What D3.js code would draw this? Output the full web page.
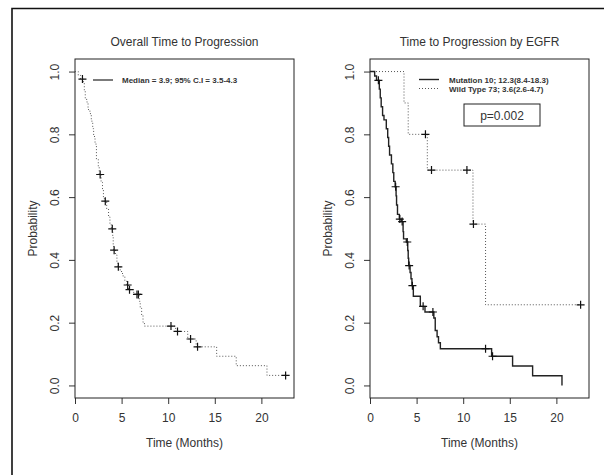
<!DOCTYPE html>
<html>
<head>
<meta charset="utf-8">
<script src="https://cdn.jsdelivr.net/npm/d3@7"></script>
<style>
  body { margin: 0; background: #fff; }
  svg text { font-family: "Liberation Sans", Arial, sans-serif; fill: #333; }
</style>
</head>
<body>
<svg id="chart" width="604" height="475"></svg>
<script>
// overall KM curve: [time, survival after step]
const overallSteps = [
  [0.35, 0.988], [0.6, 0.976], [0.9, 0.964], [1.0, 0.939], [1.1, 0.915], [1.25, 0.903],
  [1.4, 0.879], [1.6, 0.866], [1.75, 0.842], [1.9, 0.818], [2.0, 0.793], [2.15, 0.769],
  [2.3, 0.72], [2.5, 0.696], [2.6, 0.672], [2.8, 0.647], [2.95, 0.623], [3.05, 0.599],
  [3.15, 0.587], [3.4, 0.562], [3.6, 0.537], [3.75, 0.512], [3.9, 0.499], [4.05, 0.474],
  [4.1, 0.445], [4.15, 0.431], [4.35, 0.416], [4.5, 0.392], [4.6, 0.378], [4.85, 0.363],
  [5.1, 0.349], [5.35, 0.334], [5.55, 0.32], [5.75, 0.305], [6.3, 0.29], [6.9, 0.268],
  [7.0, 0.246], [7.15, 0.223], [7.3, 0.201], [7.45, 0.189], [10.8, 0.172], [12.1, 0.148],
  [13.0, 0.123], [15.2, 0.093], [17.3, 0.063], [20.6, 0.032], [22.6, 0.032]
];
const overallCensor = [
  [0.8, 0.976], [2.7, 0.672], [3.25, 0.587], [4.0, 0.499], [4.2, 0.431], [4.65, 0.378],
  [5.65, 0.32], [5.85, 0.305], [6.65, 0.29], [6.8, 0.29], [10.3, 0.189], [11.0, 0.172],
  [12.4, 0.148], [13.15, 0.123], [22.6, 0.032]
];

// EGFR panel, solid curve
const solidSteps = [
  [0.5, 0.986], [0.7, 0.972], [1.0, 0.944], [1.1, 0.916], [1.2, 0.888], [1.35, 0.86],
  [1.5, 0.846], [1.75, 0.818], [1.9, 0.79], [2.0, 0.762], [2.1, 0.734], [2.3, 0.706],
  [2.45, 0.678], [2.55, 0.65], [2.7, 0.633], [2.8, 0.604], [2.85, 0.575], [2.95, 0.545],
  [3.15, 0.53], [3.35, 0.522], [3.55, 0.49], [3.6, 0.467], [3.9, 0.457], [4.05, 0.43],
  [4.1, 0.405], [4.15, 0.382], [4.3, 0.36], [4.4, 0.34], [4.5, 0.318], [4.65, 0.284],
  [5.4, 0.252], [5.9, 0.234], [6.85, 0.215], [7.0, 0.175], [7.2, 0.155], [7.35, 0.136],
  [7.55, 0.117], [13.05, 0.093], [15.3, 0.062], [17.45, 0.031], [20.6, 0.0]
];
const solidCensor = [
  [0.9, 0.972], [2.75, 0.633], [3.2, 0.53], [3.45, 0.522], [4.0, 0.457], [4.2, 0.382],
  [4.55, 0.318], [5.7, 0.252], [6.75, 0.234], [12.4, 0.117], [13.15, 0.093]
];

// EGFR panel, dotted curve
const dottedSteps = [
  [3.65, 0.9], [4.1, 0.8], [6.15, 0.686], [11.05, 0.514], [12.4, 0.257], [22.6, 0.257]
];
const dottedCensor = [
  [5.95, 0.8], [6.6, 0.686], [10.4, 0.686], [11.1, 0.514], [22.6, 0.257]
];

const xTicks = [0, 5, 10, 15, 20];
const yTicks = [0, 0.2, 0.4, 0.6, 0.8, 1.0];

const svg = d3.select("#chart");
svg.append("rect").attr("width", 604).attr("height", 475).attr("fill", "#fff");

// outer frame (cropped)
svg.append("path")
    .attr("d", "M12,475V8.5H604")
    .attr("fill", "none")
    .attr("stroke", "#111")
    .attr("stroke-width", 1.6);

const boxTop = 59, boxBottom = 398;

function drawPanel(left, right, title) {
    const x = d3.scaleLinear().domain([0, 23.5]).range([left, right]);
    const y = d3.scaleLinear().domain([-0.04, 1.04]).range([boxBottom, boxTop]);
    const g = svg.append("g");

    g.append("text")
        .attr("x", (left + right) / 2)
        .attr("y", 46)
        .attr("text-anchor", "middle")
        .style("font-size", "12px")
        .text(title);

    const xAxis = g.append("g")
        .attr("transform", `translate(0,${boxBottom})`)
        .call(d3.axisBottom(x).tickValues(xTicks).tickSize(6).tickPadding(9));
    xAxis.select(".domain").remove();
    xAxis.selectAll("line").attr("stroke", "#333");
    xAxis.selectAll("text").style("font-size", "12px").attr("fill", "#333");

    const yAxis = g.append("g")
        .attr("transform", `translate(${left},0)`)
        .call(d3.axisLeft(y).tickValues(yTicks).tickSize(6).tickFormat(d3.format(".1f")));
    yAxis.select(".domain").remove();
    yAxis.selectAll("line").attr("stroke", "#333");
    yAxis.selectAll("text")
        .attr("x", null).attr("dy", "0.35em")
        .attr("text-anchor", "middle")
        .attr("transform", "translate(-20,0) rotate(-90)")
        .style("font-size", "12px").attr("fill", "#333");

    g.append("rect")
        .attr("x", left).attr("y", boxTop)
        .attr("width", right - left).attr("height", boxBottom - boxTop)
        .attr("fill", "none").attr("stroke", "#222").attr("stroke-width", 1);

    g.append("text")
        .attr("x", (left + right) / 2)
        .attr("y", 447)
        .attr("text-anchor", "middle")
        .style("font-size", "12px")
        .text("Time (Months)");

    g.append("text")
        .attr("transform", `translate(${left - 38},${y(0.5)}) rotate(-90)`)
        .attr("text-anchor", "middle")
        .style("font-size", "12px")
        .text("Probability");

    return { g, x, y };
}

function drawCurve(p, steps, censor, dotted) {
    const line = d3.line()
        .x(d => p.x(d[0]))
        .y(d => p.y(d[1]))
        .curve(d3.curveStepAfter);
    p.g.append("path")
        .datum([[0, 1]].concat(steps))
        .attr("d", line)
        .attr("fill", "none")
        .attr("stroke", dotted ? "#555" : "#222")
        .attr("stroke-width", dotted ? 1 : 1.4)
        .attr("stroke-dasharray", dotted ? "1,2" : null);
    p.g.selectAll(null)
        .data(censor)
        .join("path")
        .attr("d", d => {
            const cx = p.x(d[0]), cy = p.y(d[1]);
            return `M${cx - 4},${cy}H${cx + 4}M${cx},${cy - 4}V${cy + 4}`;
        })
        .attr("stroke", "#111")
        .attr("stroke-width", 1.2);
}

// left panel
const p1 = drawPanel(75, 294, "Overall Time to Progression");
drawCurve(p1, overallSteps, overallCensor, true);
p1.g.append("line")
    .attr("x1", 93).attr("x2", 113).attr("y1", 80).attr("y2", 80)
    .attr("stroke", "#222").attr("stroke-width", 1.2);
p1.g.append("text")
    .attr("x", 122).attr("y", 83)
    .style("font-size", "8px").style("font-weight", "bold")
    .text("Median = 3.9; 95% C.I = 3.5-4.3");

// right panel
const p2 = drawPanel(370, 589, "Time to Progression by EGFR");
drawCurve(p2, dottedSteps, dottedCensor, true);
drawCurve(p2, solidSteps, solidCensor, false);

const legendRows = [
    { label: "Mutation 10; 12.3(8.4-18.3)", dotted: false },
    { label: "Wild Type 73; 3.6(2.6-4.7)", dotted: true }
];
legendRows.forEach((r, i) => {
    const ly = 79.5 + i * 9;
    p2.g.append("line")
        .attr("x1", 419).attr("x2", 439).attr("y1", ly).attr("y2", ly)
        .attr("stroke", r.dotted ? "#555" : "#222")
        .attr("stroke-width", r.dotted ? 1 : 1.4)
        .attr("stroke-dasharray", r.dotted ? "1,2" : null);
    p2.g.append("text")
        .attr("x", 449).attr("y", ly + 3)
        .style("font-size", "8px").style("font-weight", "bold")
        .text(r.label);
});

p2.g.append("rect")
    .attr("x", 464).attr("y", 104).attr("width", 76).attr("height", 22)
    .attr("fill", "none").attr("stroke", "#222").attr("stroke-width", 1);
p2.g.append("text")
    .attr("x", 502).attr("y", 120)
    .attr("text-anchor", "middle")
    .style("font-size", "12px")
    .text("p=0.002");
</script>
</body>
</html>
